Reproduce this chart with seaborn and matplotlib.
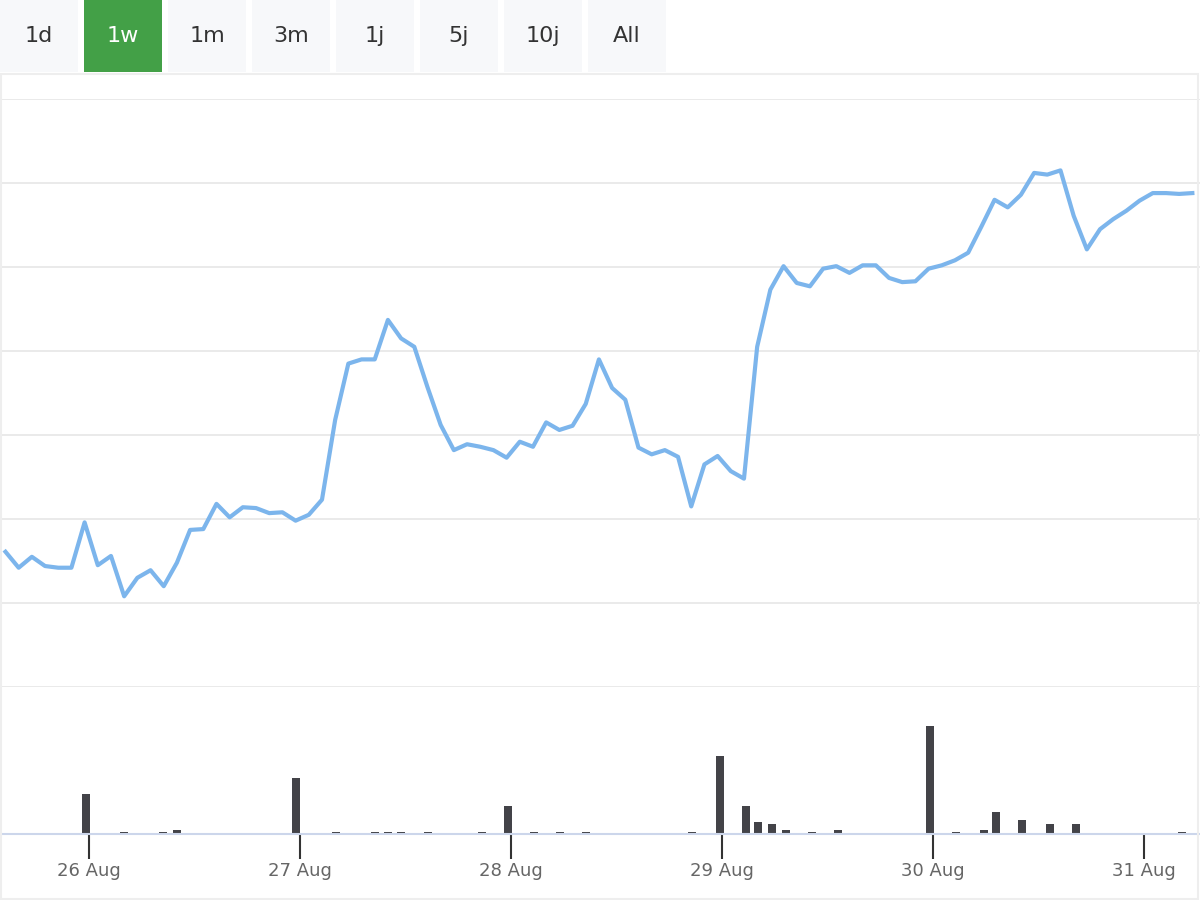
import matplotlib
matplotlib.use("Agg")
import matplotlib.pyplot as plt
import seaborn as sns
import numpy as np
import pandas as pd
from matplotlib.patches import Rectangle

buttons = ["1d", "1w", "1m", "3m", "1j", "5j", "10j", "All"]
selected = "1w"
start_hour = -9.5
step_hour = 1.5
price = [16.1,14.2,15.5,14.4,14.2,14.2,19.6,14.5,15.6,10.8,13.0,13.9,12.0,14.8,18.7,18.8,21.8,20.2,21.4,21.3,
         20.7,20.8,19.8,20.5,22.3,31.8,38.5,39.0,39.0,43.7,41.5,40.5,35.7,31.2,28.2,28.9,28.6,28.2,27.3,29.2,
         28.6,31.5,30.6,31.1,33.7,39.0,35.6,34.2,28.5,27.7,28.2,27.4,21.5,26.5,27.5,25.7,24.8,40.5,47.3,50.1,
         48.1,47.7,49.8,50.1,49.3,50.2,50.2,48.7,48.2,48.3,49.8,50.2,50.8,51.7,54.8,58.0,57.1,58.6,61.2,61.0,
         61.5,56.1,52.1,54.5,55.7,56.7,57.9,58.8,58.8,58.7,58.8]
vol_hours = [-0.3,4.0,8.4,10.0,23.5,28.1,32.5,34.0,35.5,38.6,44.7,47.7,50.6,53.6,56.5,68.6,71.8,74.7,76.1,77.7,
             79.3,82.2,85.2,95.7,98.6,101.8,103.2,106.1,109.3,112.3,124.3]
vol = [40,2,2,4,56,2,2,2,2,2,2,28,2,2,2,2,78,28,12,10,4,2,4,108,2,4,22,14,10,10,2]
tick_hours = [0, 24, 48, 72, 96, 120]
tick_labels = ["26 Aug", "27 Aug", "28 Aug", "29 Aug", "30 Aug", "31 Aug"]

hours = start_hour + step_hour * np.arange(len(price))
df = pd.DataFrame({"h": hours, "p": price})

W, H = 1200, 900
fig = plt.figure(figsize=(12, 9), dpi=100)
fig.patch.set_facecolor("white")
xmin, xmax = (0 - 89) / 211 * 24, (1200 - 89) / 211 * 24

# price axes: pixel y 99..687
ax1 = fig.add_axes([0, 1 - 687 / H, 1, (687 - 99) / H])
sns.lineplot(data=df, x="h", y="p", ax=ax1, color="#7cb5ec", linewidth=3)
ax1.set_xlim(xmin, xmax)
ax1.set_ylim(0, 70)
ax1.set_yticks(np.arange(0, 71, 10))
ax1.grid(axis="y", color="#e6e6e6", linewidth=1.2)
ax1.grid(axis="x", visible=False)
ax1.set_xticks([])
ax1.tick_params(left=False, labelleft=False)
ax1.set_xlabel(""); ax1.set_ylabel("")
for s in ax1.spines.values():
    s.set_visible(False)
ax1.set_facecolor("none")

# volume axes: pixel y 687..834
ax2 = fig.add_axes([0, 1 - 834 / H, 1, (834 - 687) / H])
ax2.bar(vol_hours, vol, width=0.9, color="#434348")
ax2.set_xlim(xmin, xmax)
ax2.set_ylim(0, 147)
ax2.set_yticks([])
ax2.set_xticks(tick_hours)
ax2.set_xticklabels(tick_labels, color="#666666", fontsize=13)
ax2.tick_params(axis="x", length=18, width=1.5, color="#333333", pad=2)
for k, s in ax2.spines.items():
    s.set_visible(k == "bottom")
ax2.spines["bottom"].set_color("#ccd6eb")
ax2.spines["bottom"].set_linewidth(1.5)
ax2.set_facecolor("none")

# buttons
for i, b in enumerate(buttons):
    x0 = i * 84
    sel = b == selected
    fig.patches.append(Rectangle((x0 / W, 1 - 72 / H), 78 / W, 72 / H, transform=fig.transFigure,
                                 facecolor="#43a047" if sel else "#f7f8fa", edgecolor="none"))
    fig.text((x0 + 39) / W, 1 - 36 / H, b, ha="center", va="center", fontsize=16,
             color="white" if sel else "#333333")

# faint border
fig.patches.append(Rectangle((0.001, 0.001), 0.997, 0.997 - 72 / H, transform=fig.transFigure,
                             facecolor="none", edgecolor="#eeeeee", linewidth=1.5))

fig.savefig("out.png", dpi=100)
